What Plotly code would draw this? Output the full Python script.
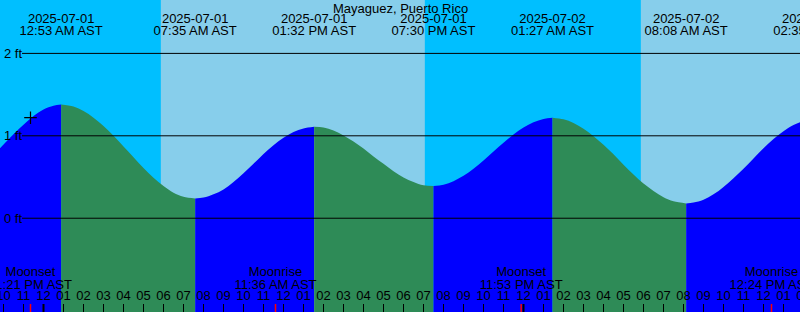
import pandas as pd
import plotly.graph_objects as go

# ---------------- data ----------------
station = "Mayaguez, Puerto Rico"
x_start = "2025-06-30 21:49:30"
x_end = "2025-07-02 13:49:30"

tide_times = [
    "2025-06-30 21:49:30", "2025-06-30 22:30", "2025-06-30 23:00", "2025-06-30 23:30",
    "2025-07-01 00:00", "2025-07-01 00:30", "2025-07-01 00:53",
    "2025-07-01 01:30", "2025-07-01 02:00", "2025-07-01 02:30", "2025-07-01 03:00",
    "2025-07-01 03:30", "2025-07-01 04:00", "2025-07-01 04:30", "2025-07-01 05:00",
    "2025-07-01 05:30", "2025-07-01 06:00", "2025-07-01 06:30", "2025-07-01 07:00",
    "2025-07-01 07:35",
    "2025-07-01 08:00", "2025-07-01 08:30", "2025-07-01 09:00", "2025-07-01 09:30",
    "2025-07-01 10:00", "2025-07-01 10:30", "2025-07-01 11:00", "2025-07-01 11:30",
    "2025-07-01 12:00", "2025-07-01 12:30", "2025-07-01 13:00", "2025-07-01 13:32",
    "2025-07-01 14:00", "2025-07-01 14:30", "2025-07-01 15:00", "2025-07-01 15:30",
    "2025-07-01 16:00", "2025-07-01 16:30", "2025-07-01 17:00", "2025-07-01 17:30",
    "2025-07-01 18:00", "2025-07-01 18:30", "2025-07-01 19:00", "2025-07-01 19:30",
    "2025-07-01 20:00", "2025-07-01 20:30", "2025-07-01 21:00", "2025-07-01 21:30",
    "2025-07-01 22:00", "2025-07-01 22:30", "2025-07-01 23:00", "2025-07-01 23:30",
    "2025-07-02 00:00", "2025-07-02 00:30", "2025-07-02 01:00", "2025-07-02 01:27",
    "2025-07-02 02:00", "2025-07-02 02:30", "2025-07-02 03:00", "2025-07-02 03:30",
    "2025-07-02 04:00", "2025-07-02 04:30", "2025-07-02 05:00", "2025-07-02 05:30",
    "2025-07-02 06:00", "2025-07-02 06:30", "2025-07-02 07:00", "2025-07-02 07:30",
    "2025-07-02 08:08",
    "2025-07-02 08:30", "2025-07-02 09:00", "2025-07-02 09:30", "2025-07-02 10:00",
    "2025-07-02 10:30", "2025-07-02 11:00", "2025-07-02 11:30", "2025-07-02 12:00",
    "2025-07-02 12:30", "2025-07-02 13:00", "2025-07-02 13:30", "2025-07-02 13:50",
]
tide_ft = [
    0.85, 1.02, 1.135, 1.24,
    1.32, 1.365, 1.38,
    1.355, 1.30, 1.22, 1.12,
    1.00, 0.87, 0.74, 0.61,
    0.49, 0.39, 0.31, 0.26,
    0.24,
    0.25, 0.29, 0.35, 0.44,
    0.545, 0.66, 0.78, 0.885,
    0.975, 1.045, 1.09, 1.11,
    1.10, 1.065, 1.005, 0.93,
    0.845, 0.75, 0.66, 0.57,
    0.495, 0.44, 0.40, 0.39,
    0.405, 0.45, 0.515, 0.60,
    0.70, 0.81, 0.915, 1.015,
    1.10, 1.165, 1.205, 1.22,
    1.20, 1.155, 1.085, 0.995,
    0.89, 0.775, 0.65, 0.53,
    0.42, 0.33, 0.255, 0.205,
    0.18,
    0.19, 0.225, 0.29, 0.38,
    0.485, 0.60, 0.725, 0.85,
    0.96, 1.055, 1.13, 1.165,
]

extreme_times = ["2025-07-01 00:53", "2025-07-01 07:35", "2025-07-01 13:32",
                 "2025-07-01 19:30", "2025-07-02 01:27", "2025-07-02 08:08",
                 "2025-07-02 14:35"]

sunrise_times = ["2025-07-01 05:52", "2025-07-02 05:52"]
sunset_times = ["2025-07-01 19:04"]

moon_times = ["2025-06-30 23:21", "2025-07-01 11:36", "2025-07-01 23:53", "2025-07-02 12:24"]
moon_events = ["Moonset", "Moonrise", "Moonset", "Moonrise"]

mark_time = "2025-06-30 23:21"
mark_ft = 1.22

level_values = [0, 1, 2]
level_labels = ["0 ft", "1 ft", "2 ft"]

# ---------------- styling ----------------
NIGHT = "#00BFFF"
DAY = "#87CEEB"
RISE = "#0000FF"
FALL = "#2E8B57"
FONT = "Liberation Sans, Arial, sans-serif"
FS = 13
Y_RANGE = [-1.138, 2.648]
BASE = -2.0


def px2ft(py):
    return (218.2 - py) / 82.4


def to_ts(v):
    return pd.to_datetime(v, format="ISO8601")


fig = go.Figure()

ts = to_ts(tide_times)
ext = set(to_ts(extreme_times))
cuts = [0] + [i for i, t in enumerate(ts) if t in ext] + [len(ts) - 1]
for a, b in zip(cuts[:-1], cuts[1:]):
    seg_t = list(ts[a:b + 1])
    seg_y = tide_ft[a:b + 1]
    color = RISE if seg_y[-1] > seg_y[0] else FALL
    fig.add_trace(go.Scatter(x=[seg_t[0], seg_t[-1]], y=[BASE, BASE], mode="lines",
                             line=dict(width=0), hoverinfo="skip", showlegend=False))
    fig.add_trace(go.Scatter(x=seg_t, y=seg_y, mode="lines",
                             line=dict(width=0, shape="spline", smoothing=1.0, color=color),
                             fill="tonexty", fillcolor=color,
                             hoverinfo="skip", showlegend=False))

# day shading
shapes = []
day_starts = sunrise_times
day_ends = sunset_times + [x_end]
for s, e in zip(day_starts, day_ends):
    shapes.append(dict(type="rect", xref="x", yref="paper", x0=s, x1=e, y0=0, y1=1,
                       fillcolor=DAY, line=dict(width=0), layer="below"))

# level lines
for v in level_values:
    shapes.append(dict(type="line", xref="paper", yref="y", x0=22 / 800, x1=1, y0=v, y1=v,
                       line=dict(color="black", width=1), layer="above"))

# midnight ticks
mid = pd.date_range(pd.Timestamp(x_start).ceil("D"), pd.Timestamp(x_end), freq="D")
for m in mid:
    shapes.append(dict(type="line", xref="x", yref="paper", x0=m, x1=m, y0=0, y1=8 / 312,
                       line=dict(color="black", width=2), layer="above"))
# moon ticks
for mt in moon_times:
    shapes.append(dict(type="line", xref="x", yref="paper", x0=mt, x1=mt, y0=0, y1=8 / 312,
                       line=dict(color="red", width=1.5), layer="above"))

# tide extreme labels
et = to_ts(extreme_times)
fig.add_trace(go.Scatter(x=list(et), y=[px2ft(20)] * len(et), mode="text",
                         text=[t.strftime("%Y-%m-%d") for t in et],
                         textfont=dict(family=FONT, size=FS, color="black"),
                         textposition="middle center", hoverinfo="skip", showlegend=False))
fig.add_trace(go.Scatter(x=list(et), y=[px2ft(32)] * len(et), mode="text",
                         text=[t.strftime("%I:%M %p AST") for t in et],
                         textfont=dict(family=FONT, size=FS, color="black"),
                         textposition="middle center", hoverinfo="skip", showlegend=False))

# moon labels
mt_ = to_ts(moon_times)
fig.add_trace(go.Scatter(x=list(mt_), y=[px2ft(273)] * len(mt_), mode="text",
                         text=moon_events,
                         textfont=dict(family=FONT, size=FS, color="black"),
                         textposition="middle center", hoverinfo="skip", showlegend=False))
fig.add_trace(go.Scatter(x=list(mt_), y=[px2ft(286)] * len(mt_), mode="text",
                         text=[t.strftime("%I:%M %p AST") for t in mt_],
                         textfont=dict(family=FONT, size=FS, color="black"),
                         textposition="middle center", hoverinfo="skip", showlegend=False))

# hour labels
hours = pd.date_range(pd.Timestamp(x_start).floor("h") - pd.Timedelta(hours=1),
                      pd.Timestamp(x_end).ceil("h") + pd.Timedelta(hours=1), freq="h")
fig.add_trace(go.Scatter(x=list(hours), y=[px2ft(297)] * len(hours), mode="text",
                         text=[h.strftime("%I") for h in hours],
                         textfont=dict(family=FONT, size=FS, color="black"),
                         textposition="middle center", hoverinfo="skip", showlegend=False))

# mark
fig.add_trace(go.Scatter(x=[mark_time], y=[mark_ft], mode="markers",
                         marker=dict(symbol="cross-thin", size=9,
                                     line=dict(color="black", width=1.2)),
                         hoverinfo="skip", showlegend=False))

annotations = [dict(text=station, xref="paper", yref="paper", x=0.5, y=1 - 8 / 312,
                    xanchor="center", yanchor="middle", showarrow=False,
                    font=dict(family=FONT, size=FS, color="black"))]
for v, lab in zip(level_values, level_labels):
    annotations.append(dict(text=lab, xref="paper", yref="y", x=2 / 800, y=v,
                            xanchor="left", yanchor="middle", showarrow=False,
                            font=dict(family=FONT, size=FS, color="black")))

fig.update_layout(
    width=800, height=312,
    margin=dict(l=0, r=0, t=0, b=0, pad=0),
    paper_bgcolor=NIGHT, plot_bgcolor=NIGHT,
    showlegend=False,
    shapes=shapes,
    annotations=annotations,
    xaxis=dict(type="date", range=[x_start, x_end], showgrid=False, zeroline=False,
               showline=False, showticklabels=False, ticks="inside", ticklen=8,
               tickcolor="black", tickwidth=1, tickmode="linear",
               tick0="2025-07-01 00:00", dtick=3600000, fixedrange=True),
    yaxis=dict(range=Y_RANGE, visible=False, fixedrange=True),
)

fig.write_html("out.html", config={"displayModeBar": False})
